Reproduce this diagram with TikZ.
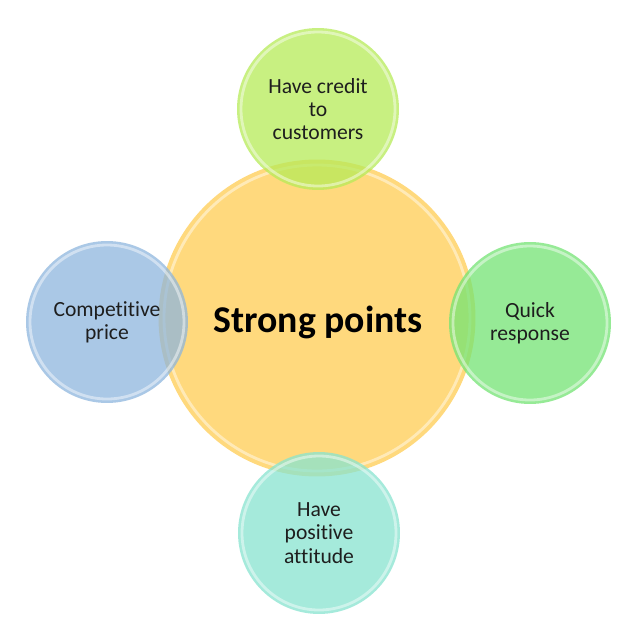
\documentclass[tikz,border=0pt]{standalone}
\usepackage{fontspec}
\setmainfont{Carlito}[Ligatures={NoCommon,NoRare,NoContextual}]
\definecolor{cyel}{RGB}{255,217,125}
\definecolor{ctop}{RGB}{182,235,88}
\definecolor{cleft}{RGB}{142,182,222}
\definecolor{cright}{RGB}{115,228,115}
\definecolor{cbot}{RGB}{135,228,208}
\definecolor{ctext}{RGB}{30,30,30}
\tikzset{
  bubble/.style={circle, inner sep=0pt, minimum size=3.24cm, fill opacity=0.75, text opacity=1,
    align=center, font=\fontsize{12.3}{13.2}\selectfont, text=ctext},
  bigbubble/.style={circle, inner sep=0pt, minimum size=6.34cm, fill=cyel},
  bigtext/.style={align=center, font=\fontsize{21.5}{24}\selectfont\bfseries, text=black},
  rim/.style={draw=white, draw opacity=0.45, line width=1.6pt}
}
\begin{document}
\begin{tikzpicture}[x=0.02cm,y=-0.02cm]
\useasboundingbox[fill=white] (0,0) rectangle (640,640);
\node[bigbubble] (c) at (317,318) {};
\node[bigtext] (ct) at (318,322) {Strong points};
\draw[rim] (c.center) circle[radius=153];
\node[bubble, fill=ctop] (t) at (318,109) {Have credit\\to\\customers};
\node[bubble, fill=cleft] (l) at (107,322) {Competitive\\price};
\node[bubble, fill=cright] (r) at (530,323) {Quick\\response};
\node[bubble, fill=cbot] (b) at (319,533) {Have\\positive\\attitude};
\foreach \n in {t,l,r,b}{
  \draw[rim] (\n.center) circle[radius=77];
}
\end{tikzpicture}
\end{document}
